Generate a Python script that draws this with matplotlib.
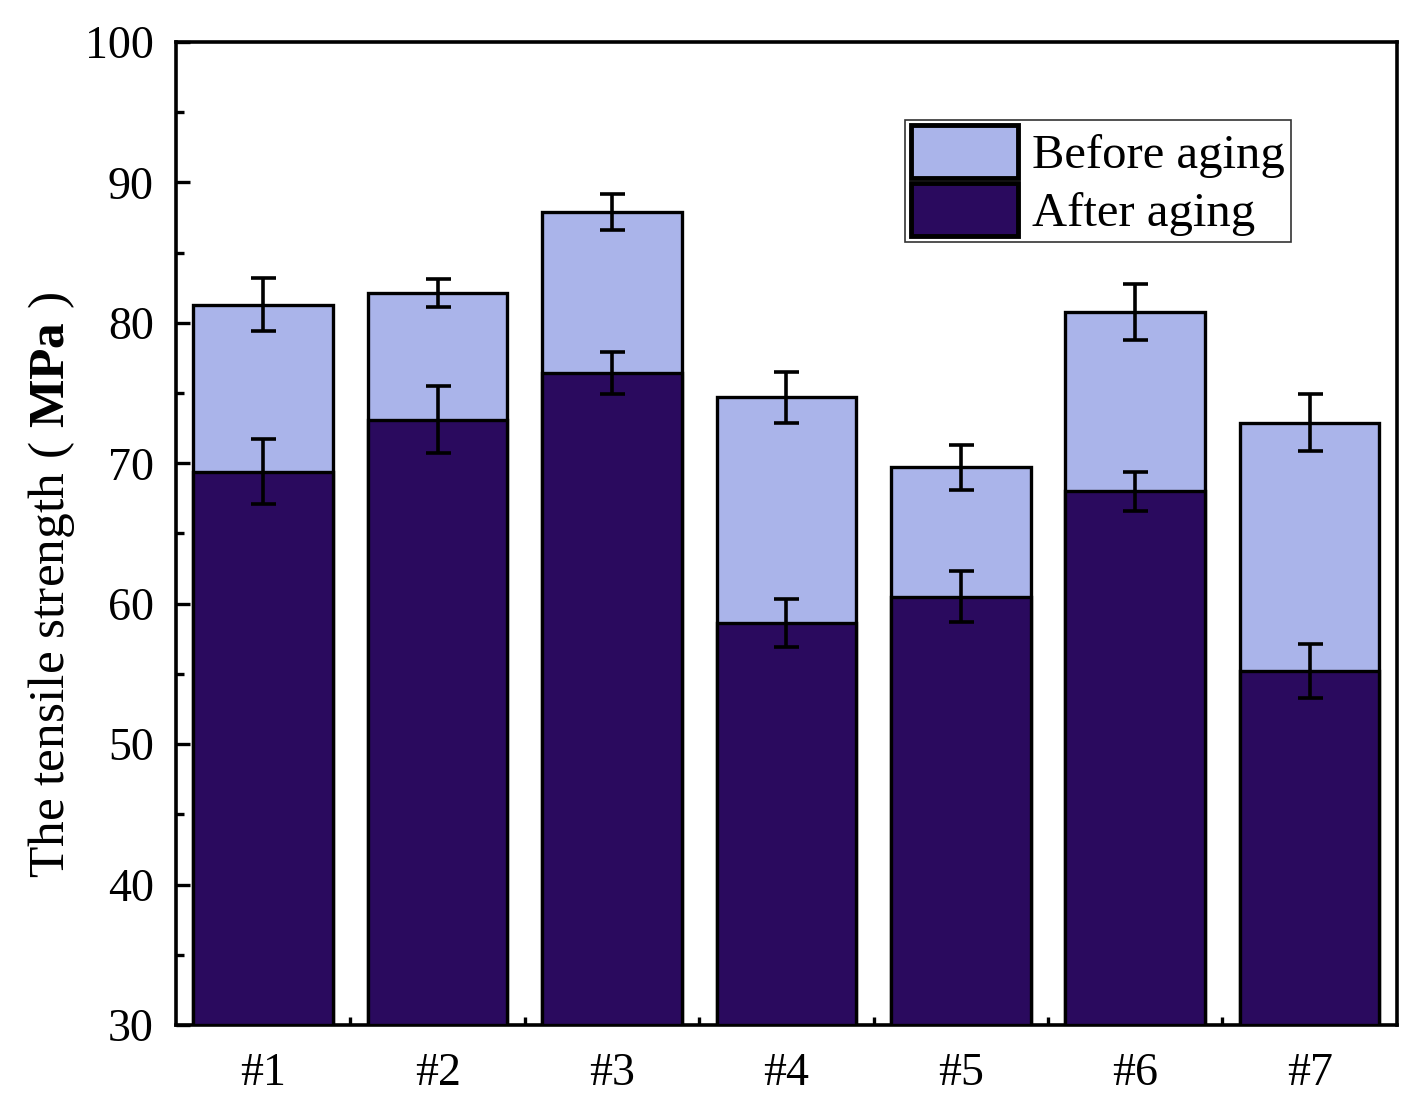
import matplotlib
matplotlib.use("Agg")
import matplotlib.pyplot as plt
import numpy as np
from matplotlib.ticker import MultipleLocator

samples = ["#1", "#2", "#3", "#4", "#5", "#6", "#7"]
before = [81.3, 82.1, 87.9, 74.7, 69.7, 80.8, 72.9]
before_err = [1.9, 1.0, 1.3, 1.8, 1.6, 2.0, 2.0]
after = [69.4, 73.1, 76.4, 58.6, 60.5, 68.0, 55.2]
after_err = [2.3, 2.4, 1.5, 1.7, 1.8, 1.4, 1.9]

plt.rcParams['font.family'] = ['Liberation Serif', 'DejaVu Sans']
plt.rcParams['mathtext.fontset'] = 'custom'
plt.rcParams['mathtext.rm'] = 'Liberation Serif'
plt.rcParams['mathtext.bf'] = 'Liberation Serif:bold'

fig = plt.figure(figsize=(14.27, 11.19), dpi=100)
ax = fig.add_axes([0.1233, 0.084, 0.8556, 0.8785])

x = np.arange(len(samples))
w = 0.8
ebar = dict(ecolor='black', elinewidth=2.6, capsize=9, capthick=2.6)
ax.bar(x, np.array(before) - 30, w, bottom=30, color='#aab4ea', edgecolor='black',
       linewidth=2.4, yerr=before_err, error_kw=ebar, label='Before aging', zorder=2)
ax.bar(x, np.array(after) - 30, w, bottom=30, color='#2a0a5e', edgecolor='black',
       linewidth=2.4, yerr=after_err, error_kw=ebar, label='After aging', zorder=3)

ax.set_xlim(-0.5, 6.5)
ax.set_ylim(30, 100)
ax.set_xticks(x)
ax.set_xticklabels(samples)
ax.set_xticks(x[:-1] + 0.5, minor=True)
ax.yaxis.set_major_locator(MultipleLocator(10))
ax.yaxis.set_minor_locator(MultipleLocator(5))
ax.tick_params(which='both', direction='in', width=2.4)
ax.tick_params(which='major', length=10)
ax.tick_params(which='minor', length=6)
ax.tick_params(axis='x', labelsize=33, pad=20)
ax.tick_params(axis='y', labelsize=33, pad=16)
for s in ax.spines.values():
    s.set_linewidth(2.6)

leg = ax.legend(loc='upper right', bbox_to_anchor=(0.913, 0.921), fontsize=35,
                handlelength=2.2, handleheight=1.3, handletextpad=0.3,
                labelspacing=0.1, borderpad=0.12, borderaxespad=0,
                fancybox=False, framealpha=1)
leg.get_frame().set_edgecolor('#333333')
leg.get_frame().set_linewidth(1.2)
for h in leg.legend_handles:
    h.set_linewidth(3.5)

# y label with bold unit
fig.text(0.036, 0.215, r"The tensile strength$\;$($\;\mathbf{MPa}\;$)", rotation=90,
         fontsize=37, ha='center', va='bottom')

fig.savefig("out.png", dpi=100)
